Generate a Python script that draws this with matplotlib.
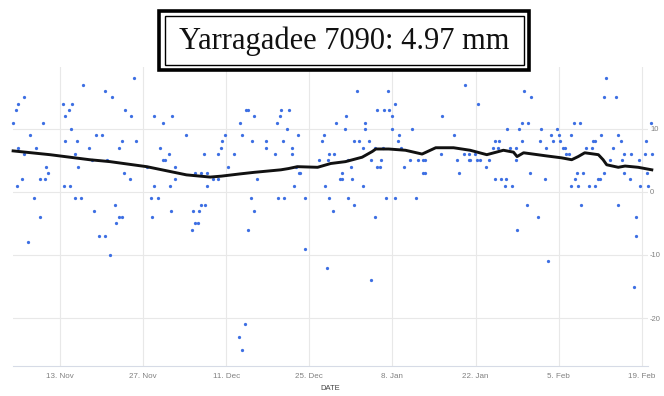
import matplotlib
matplotlib.use("Agg")
import matplotlib.pyplot as plt
import matplotlib.dates as mdates
from matplotlib.patches import Rectangle
import numpy as np
import datetime as dt

# ---------------- data ----------------
title = "Yarragadee 7090: 4.97 mm"
base_date = "2017-11-13"          # day 0 of the offsets below

obs_day = [
    3.9, 7.5, 8.8, -6.1, -7.0, -7.4, -7.9, -2.9, 0.5, 2.0, 1.5, 0.9, 1.9, -5.1, 6.0, 7.0, 0.9, 2.9,
    -7.0, -4.0, 4.9, -6.0, 2.5, 5.4, 7.9, -2.4, -2.0, -6.4, -3.4, -2.5, -7.3, 0.6, 1.6, 3.0, -4.4,
    2.5, 3.6, -3.4, 5.8, 9.3, 6.6, 7.6, -5.4, 8.5,
    12.4, 10.9, 11.9, 15.8, 17.3, 18.8, 21.3, 10.4, 12.8, 9.9, 16.9, 18.3, 17.35, 17.7, 24.3, 26.7,
    27.2, 27.3, 14.7, 19.3, 10.8, 11.8, 19.4, 22.8, 23.75, 24.8, 25.7, 26.7, 15.8, 18.5, 24.8, 15.4,
    16.5, 23.7, 24.5, 9.9, 10.4, 9.5, 15.5, 18.7, 22.35, 23.4, 22.7, 23.3, 22.2,
    31.3, 31.7, 32.7, 30.3, 37.2, 38.6, 37.1, 36.6, 38.2, 27.75, 30.7, 40.1, 44.5, 32.35, 34.65,
    37.6, 44.1, 34.65, 39.1, 29.3, 36.2, 39.0, 45.4, 43.6, 45.15, 28.3, 39.8, 40.2, 40.5, 33.2,
    39.5, 44.6, 32.2, 36.7, 37.7, 41.3, 45.4, 32.7, 31.7, 41.2, 45.0, 31.2, 30.1, 30.6,
    50.1, 55.3, 56.5, 53.45, 54.5, 55.5, 48.1, 56.0, 46.55, 51.4, 48.0, 51.4, 55.9, 59.35, 57.1,
    49.5, 50.4, 52.05, 56.9, 51.1, 53.1, 54.4, 57.4, 46.2, 48.5, 52.4, 54.1, 59.0, 60.3, 61.1,
    61.45, 49.1, 53.45, 53.95, 57.95, 47.55, 61.1, 61.45, 47.15, 47.45, 49.15, 51.0, 48.5, 55.0,
    56.4, 59.9, 46.0, 49.5, 53.0, 52.35,
    68.3, 70.4, 64.35, 78.2, 79.35, 77.8, 78.8, 75.3, 77.3, 81.1, 66.3, 73.2, 73.9, 77.8, 80.8,
    72.9, 73.8, 75.8, 76.8, 81.9, 64.25, 68.0, 68.85, 69.85, 66.9, 68.85, 69.1, 70.25, 70.8, 72.3,
    76.8, 71.8, 67.3, 79.2, 73.2, 74.25, 75.1, 81.75, 75.0, 76.2, 78.7, 80.6, 77.0, 82.15,
    92.0, 91.65, 93.6, 99.55, 86.65, 87.6, 83.8, 82.7, 84.1, 86.15, 91.1, 94.05, 83.05, 84.2,
    89.85, 90.15, 94.55, 98.65, 84.75, 85.05, 88.65, 89.6, 93.1, 85.3, 85.7, 95.05, 96.2, 98.5,
    99.7, 92.65, 94.6, 97.55, 87.05, 88.15, 91.7, 94.95, 98.95, 86.75, 90.7, 90.95, 96.05, 86.1,
    87.2, 89.1, 90.1, 97.65, 99.05, 87.75, 93.95, 97.05, 97.05, 96.65,
]
obs_mm = [
    17, 16, 15, 15, 14, 13, 11, 11, 14, 14, 13, 12, 10, 9, 9, 9, 8, 8,
    7, 7, 7, 6, 6, 5, 5, 4, 3, 2, 2, 2, 1, 1, 1, 4, -1,
    -1, -1, -4, -3, -2, -7, -7, -8, -10,
    18, 13, 12, 12, 11, 12, 9, 8, 8, 7, 7, 6, 5, 5, 6, 6,
    7, 8, 4, 4, 3, 2, 2, 3, 3, 3, 2, 2, 1, 1, 1, -1,
    -1, -2, -2, -4, -4, -5, -4, -3, -3, -3, -5, -5, -6,
    13, 13, 12, 11, 13, 13, 12, 11, 10, 9, 9, 9, 9, 8, 8,
    8, 8, 7, 7, 6, 6, 6, 6, 5, 5, 4, 4, 3, 3, 2,
    1, 1, -1, -1, -1, -1, -1, -3, -6, -9, -12, -21, -23, -25,
    16, 16, 14, 13, 13, 13, 12, 12, 11, 11, 10, 10, 10, 10, 9,
    8, 8, 8, 8, 7, 7, 7, 7, 6, 5, 5, 5, 5, 5, 5,
    5, 4, 4, 4, 4, 3, 3, 3, 2, 2, 2, 1, -1, -1,
    -1, -1, -3, -2, -4, -14,
    17, 14, 12, 16, 15, 11, 11, 10, 10, 10, 9, 8, 8, 8, 8,
    7, 7, 7, 7, 7, 6, 6, 6, 6, 5, 5, 5, 5, 5, 5,
    5, 4, 3, 3, 2, 2, 2, 2, 1, 1, -2, -4, -6, -11,
    18, 15, 15, 11, 11, 11, 10, 9, 9, 9, 9, 9, 8, 8,
    8, 8, 8, 8, 7, 7, 7, 7, 7, 6, 6, 6, 6, 6,
    6, 5, 5, 5, 3, 3, 3, 3, 3, 2, 2, 2, 2, 1,
    1, 1, 1, 1, 1, -2, -2, -4, -7, -15,
]

trend_day = [-7.9, -1.7, 5.0, 8.4, 11.5, 14.6, 21.3, 25.3, 27.2, 30.3, 32.7, 37.2, 38.5, 40.0,
             43.4, 45.6, 48.1, 50.9, 52.6, 53.2, 55.4, 58.2, 61.0, 63.3, 66.3, 69.1, 71.9, 74.7,
             76.4, 77.0, 78.1, 82.0, 84.5, 86.2, 87.3, 88.4, 90.7, 91.5, 92.1, 94.05, 95.2, 97.4,
             99.7]
trend_mm = [6.5, 5.9, 5.1, 4.8, 4.4, 4.0, 2.7, 2.35, 2.5, 2.85, 3.1, 3.5, 3.7, 4.0,
            3.9, 4.5, 4.8, 5.5, 6.4, 6.8, 6.8, 6.6, 6.0, 7.0, 7.0, 6.6, 5.9, 6.6,
            6.3, 5.6, 6.2, 5.7, 5.4, 5.1, 5.6, 6.2, 5.9, 5.1, 4.3, 3.9, 4.1, 3.9,
            3.5]

x_tick_dates = ["2017-11-13", "2017-11-27", "2017-12-11", "2017-12-25",
                "2018-01-08", "2018-01-22", "2018-02-05", "2018-02-19"]
x_tick_labels = ["13. Nov", "27. Nov", "11. Dec", "25. Dec", "8. Jan", "22. Jan", "5. Feb", "19. Feb"]
y_ticks = [-20, -10, 0, 10]
y_tick_labels = ["-20", "-10", "0", "10"]
x_range_days = [-7.97, 99.06]
y_range = [-27.6, 19.8]

# ---------------- plot ----------------
W, H = 664, 396
fig = plt.figure(figsize=(W / 100, H / 100), dpi=100)
fig.patch.set_facecolor("white")

L, R, T, B = 12.7, 648, 67, 366
ax = fig.add_axes([L / W, 1 - B / H, (R - L) / W, (B - T) / H])

base = mdates.date2num(dt.datetime.fromisoformat(base_date))
obs_x = base + np.asarray(obs_day)
trend_x = base + np.asarray(trend_day)

ax.scatter(obs_x, obs_mm, s=5.5, color="#3d6fe3", linewidths=0, zorder=3, clip_on=False)
ax.plot(trend_x, trend_mm, color="#111111", lw=2.1, zorder=4, solid_joinstyle="round",
        clip_on=False)

ax.set_xlim(base + x_range_days[0], base + x_range_days[1])
ax.set_ylim(*y_range)

xt = [mdates.date2num(dt.datetime.fromisoformat(d)) for d in x_tick_dates]
ax.set_xticks(xt)
ax.set_xticklabels(x_tick_labels)
ax.set_yticks(y_ticks)
ax.set_yticklabels(y_tick_labels)
ax.yaxis.tick_right()
ax.tick_params(axis="both", length=0, labelsize=5.8, labelcolor="#808080",
               labelfontfamily="Liberation Sans")
ax.tick_params(axis="x", pad=5)
ax.tick_params(axis="y", pad=1.5, labelsize=5.5)
ax.grid(True, color="#e8e8e8", lw=0.8)
ax.set_axisbelow(True)
for s in ["top", "left", "right"]:
    ax.spines[s].set_visible(False)
ax.spines["bottom"].set_color("#d6dbe6")
ax.spines["bottom"].set_linewidth(0.8)
ax.set_xlabel("DATE", fontsize=5.5, color="#444444", family="Liberation Sans", labelpad=4)

# title box with double border
fig.patches.append(Rectangle((159 / W, 1 - 70 / H), (529 - 159) / W, (70 - 11) / H,
                             transform=fig.transFigure, facecolor="white",
                             edgecolor="black", lw=2.6, zorder=10))
fig.patches.append(Rectangle((164.5 / W, 1 - 65 / H), (523.5 - 164.5) / W, (65 - 16.5) / H,
                             transform=fig.transFigure, facecolor="white",
                             edgecolor="black", lw=1.0, zorder=11))
fig.text(344 / W, 1 - 41 / H, title, ha="center", va="center", fontsize=22,
         family="Liberation Serif", color="#111111", zorder=12)

fig.savefig("out.png", dpi=100)
